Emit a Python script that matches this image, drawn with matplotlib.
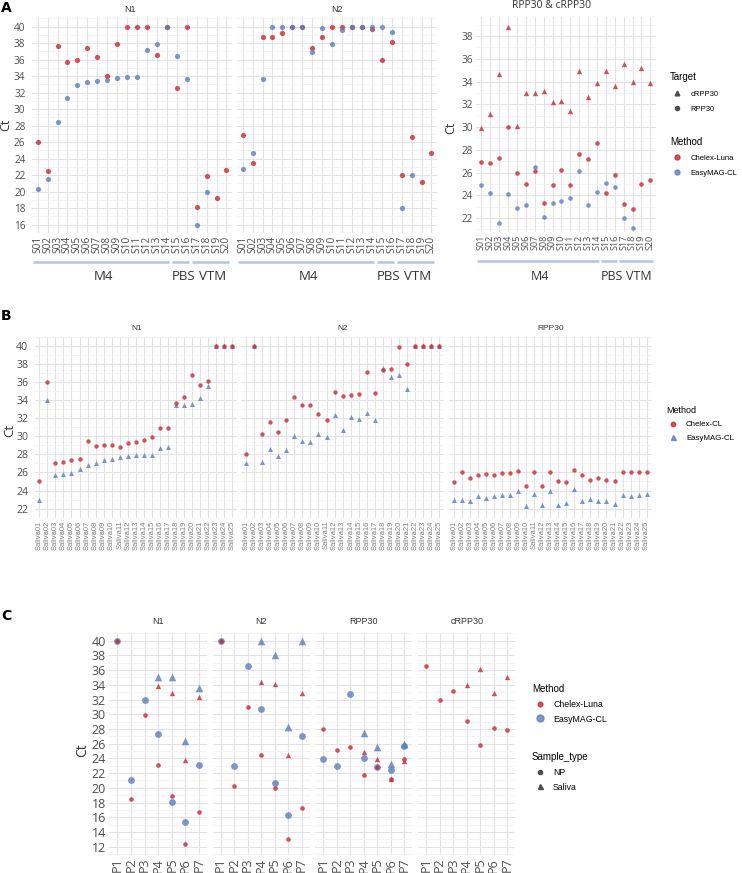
"""Ct values per sample for the extraction methods (panels A, B, C)."""

import numpy as np
import matplotlib
matplotlib.use("Agg")
import matplotlib.pyplot as plt
from matplotlib.lines import Line2D

nan = np.nan

# ---- Panel A: swab samples in M4 / PBS / VTM ----
a_samples = ["S01", "S02", "S03", "S04", "S05", "S06", "S07", "S08", "S09", "S10",
             "S11", "S12", "S13", "S14", "S15", "S16", "S17", "S18", "S19", "S20"]
a_groups = [("M4", "S01", "S14"), ("PBS", "S15", "S16"), ("VTM", "S17", "S20")]
a_n1_chelex = [26.0, 22.5, 37.6, 35.7, 36.0, 37.4, 36.3, 34.0, 37.9, 40, 40, 40, 36.6, 40,
               32.6, 40, 18.2, 21.9, 19.2, 22.6]
a_n1_easymag = [20.3, 21.5, 28.4, 31.4, 32.9, 33.3, 33.4, 33.5, 33.8, 33.9, 33.9, 37.2, 37.9,
                40, 36.5, 33.6, 16.0, 20.0, nan, nan]
a_n2_chelex = [26.9, 23.5, 38.8, 38.7, 39.2, 40, 40, 37.4, 38.8, 40, 40, 40, 40, 39.7,
               36.0, 38.2, 22.0, 26.6, 21.2, 24.7]
a_n2_easymag = [22.7, 24.7, 33.6, 40, 40, 40, 40, 36.9, 39.8, 37.9, 39.6, 40, 40, 40,
                40, 39.3, 18.0, 22.0, nan, nan]
a_rpp30_chelex = [26.9, 26.8, 27.3, 30.0, 26.0, 25.0, 26.1, 23.3, 24.9, 26.2, 24.9, 27.6, 27.2,
                  28.6, 24.2, 25.8, 23.2, 22.8, 25.0, 25.3]
a_rpp30_easymag = [24.9, 24.2, 21.6, 24.1, 22.9, 23.1, 26.5, 22.1, 23.3, 23.5, 23.8, 26.1, 23.1,
                   24.3, 25.1, 24.7, 22.0, 21.1, nan, nan]
a_crpp30_chelex = [29.9, 31.1, 34.7, 38.8, 30.1, 33.0, 33.0, 33.2, 32.2, 32.3, 31.4, 34.9, 32.6,
                   33.9, 34.9, 33.6, 35.5, 34.0, 35.2, 33.9]

# ---- Panel B: saliva samples ----
b_samples = ["Saliva%02d" % i for i in range(1, 26)]
b_n1_chelex = [25.0, 36.0, 27.0, 27.1, 27.4, 27.5, 29.5, 28.9, 29.0, 29.0, 28.8, 29.3, 29.4,
               29.6, 29.9, 30.9, 30.9, 33.7, 34.3, 36.8, 35.7, 36.1, 40, 40, 40]
b_n1_easymag = [23.0, 34.0, 25.7, 25.8, 25.9, 26.4, 26.8, 27.0, 27.4, 27.5, 27.7, 27.8, 27.9,
                27.9, 27.9, 28.7, 28.8, 33.5, 33.5, 33.6, 34.2, 35.5, 40, 40, 40]
b_n2_chelex = [28.0, 40, 30.3, 31.6, 30.5, 31.8, 34.3, 33.4, 33.4, 32.5, 31.8, 34.9, 34.4,
               34.6, 34.7, 37.1, 34.8, 37.3, 37.4, 39.9, 38.0, 40, 40, 40, 40]
b_n2_easymag = [27.0, 40, 27.1, 28.6, 27.8, 28.5, 30.0, 29.5, 29.4, 30.2, 29.9, 32.3, 30.7,
                32.1, 31.9, 32.6, 31.8, 37.5, 36.6, 36.8, 35.2, 40, 40, 40, 40]
b_rpp30_chelex = [24.9, 26.0, 25.4, 25.7, 25.8, 25.7, 25.9, 25.9, 26.2, 24.5, 26.0, 24.5, 26.0,
                  25.0, 24.9, 26.3, 25.7, 25.2, 25.4, 25.2, 25.0, 26.0, 26.0, 26.0, 26.0]
b_rpp30_easymag = [23.0, 23.0, 22.9, 23.4, 23.2, 23.4, 23.5, 23.5, 23.9, 22.3, 23.6, 22.4, 24.0,
                   22.4, 22.6, 24.2, 22.9, 23.1, 22.9, 22.9, 22.5, 23.5, 23.4, 23.5, 23.6]

# ---- Panel C: paired patients, NP swab vs saliva ----
c_patients = ["P1", "P2", "P3", "P4", "P5", "P6", "P7"]
c_targets = ["N1", "N2", "RPP30", "cRPP30"]
c_chelex_np = {
    "N1": [40, 18.5, 29.9, 23.1, 18.9, 12.3, 16.7],
    "N2": [40, 20.3, 31.0, 24.5, 20.0, 13.1, 17.3],
    "RPP30": [28.0, 25.1, 25.6, 21.7, 22.8, 21.2, 23.9],
    "cRPP30": [36.5, 31.9, 33.1, 29.1, 25.8, 28.1, 27.9],
}
c_easymag_np = {
    "N1": [40, 21.0, 32.0, 27.3, 18.1, 15.4, 23.1],
    "N2": [40, 22.9, 36.5, 30.7, 20.7, 16.3, 27.1],
    "RPP30": [23.9, 22.9, 32.7, 24.0, 22.8, 22.4, 25.7],
    "cRPP30": [nan] * 7,
}
c_chelex_saliva = {
    "N1": [nan, nan, nan, 33.9, 32.9, 23.8, 32.4],
    "N2": [nan, nan, nan, 34.4, 34.1, 24.5, 32.9],
    "RPP30": [nan, nan, nan, 24.9, 23.9, 21.2, 23.7],
    "cRPP30": [nan, nan, nan, 34.0, 36.1, 32.9, 35.0],
}
c_easymag_saliva = {
    "N1": [nan, nan, nan, 35.0, 35.0, 26.3, 33.5],
    "N2": [nan, nan, nan, 40, 38.0, 28.2, 40],
    "RPP30": [nan, nan, nan, 27.5, 25.5, 23.2, 26.0],
    "cRPP30": [nan] * 7,
}

RED = "#c72930"
BLUE = "#5c7dbf"
ALPHA = 0.8
GREY = "#4d4d4d"
W, H = 742, 873

plt.rcParams["font.family"] = ["Open Sans", "DejaVu Sans"]
fig = plt.figure(figsize=(W / 100, H / 100), dpi=100)


def facet(x0, x1, ytop, ybot, ylim, ymajor, show_y, xsize, ysize, ypad):
    """Make one ggplot-minimal style facet, placed in pixel units."""
    ax = fig.add_axes([x0 / W, 1 - ybot / H, (x1 - x0) / W, (ybot - ytop) / H])
    ax.set_ylim(*ylim)
    ax.set_yticks(ymajor)
    ax.set_yticks(np.arange(ymajor[0] - 1, ymajor[-1] + 2, 2), minor=True)
    ax.grid(which="major", color="#e3e3e3", linewidth=0.8)
    ax.grid(which="minor", axis="y", color="#f0f0f0", linewidth=0.5)
    ax.set_axisbelow(True)
    for sp in ax.spines.values():
        sp.set_visible(False)
    ax.tick_params(which="both", length=0)
    ax.tick_params(axis="x", labelrotation=90, labelsize=xsize, labelcolor=GREY, pad=2)
    ax.tick_params(axis="y", labelsize=ysize, labelcolor=GREY, pad=ypad, labelleft=show_y)
    return ax


def dots(ax, cats, vals, **kw):
    """Scatter one series on a categorical x axis, leaving out missing values."""
    keep = [(c, v) for c, v in zip(cats, vals) if not np.isnan(v)]
    if keep:
        xs, ys = zip(*keep)
        ax.scatter(list(xs), list(ys), alpha=ALPHA, linewidths=0, **kw)


def label(x, y, s, size, **kw):
    kw.setdefault("family", ["Liberation Sans"])
    kw.setdefault("color", "#333333")
    fig.text(x / W, 1 - y / H, s, fontsize=size, ha=kw.pop("ha", "center"),
             va=kw.pop("va", "center"), **kw)


# ================= Panel A =================
a_ylim = (15.03, 41.17)
a_ticks = np.arange(16, 41, 2)
axA1 = facet(31.7, 232.4, 17, 233, a_ylim, a_ticks, True, 7.3, 7.2, 4.5)
axA2 = facet(236.7, 437.4, 17, 233, a_ylim, a_ticks, False, 7.3, 7.2, 4.5)
axA3 = facet(476, 655.7, 17, 232, (20.77, 39.67), np.arange(22, 39, 2), True, 6.5, 7.2, 2.2)

for ax, red, blue in [(axA1, a_n1_chelex, a_n1_easymag), (axA2, a_n2_chelex, a_n2_easymag)]:
    # register every sample as a category first, so order and range stay fixed
    ax.scatter(a_samples, np.zeros(len(a_samples)), s=0)
    dots(ax, a_samples, red, s=14, color=RED)
    dots(ax, a_samples, blue, s=14, color=BLUE)

axA3.scatter(a_samples, np.zeros(len(a_samples)), s=0)
dots(axA3, a_samples, a_rpp30_chelex, s=11, color=RED)
dots(axA3, a_samples, a_rpp30_easymag, s=11, color=BLUE)
dots(axA3, a_samples, a_crpp30_chelex, s=15, marker="^", color=RED)

for ax, gsize in ((axA1, 9.5), (axA2, 9.5), (axA3, 9)):
    ax.set_xlim(-0.6, len(a_samples) - 0.4)
    h = ax.get_position().height * H
    for name, first, last in a_groups:
        i0, i1 = a_samples.index(first), a_samples.index(last)
        ax.plot([i0 - 0.5, i1 + 0.25], [-29 / h, -29 / h], transform=ax.get_xaxis_transform(),
                clip_on=False, color="#b3c2ea", linewidth=1.8, solid_capstyle="butt")
        ax.text((i0 + i1) / 2 + 0.15, -44 / h, name, transform=ax.get_xaxis_transform(),
                ha="center", va="center", fontsize=gsize, color="#333333")

label(130, 9, "N1", 6.5)
label(337, 9, "N2", 6.5)
label(552, 6, "RPP30 & cRPP30", 7.5, family=["Open Sans"])
label(6, 125, "Ct", 9, rotation=90, family=["Open Sans"])
label(451, 128, "Ct", 9, rotation=90, family=["Open Sans"])
label(6, 8, "A", 10, weight="bold", family=["DejaVu Sans"], color="black")

lp = dict(frameon=False, loc="upper left", alignment="left", borderpad=0, borderaxespad=0,
          prop={"family": "Liberation Sans", "size": 5.5},
          title_fontproperties={"family": "Liberation Sans", "size": 7})
fig.legend([Line2D([], [], marker="^", ls="", color=GREY, markersize=3.4),
            Line2D([], [], marker="o", ls="", color=GREY, markersize=3.0)],
           ["cRPP30", "RPP30"], title="Target", bbox_to_anchor=(670 / W, 1 - 72 / H),
           handlelength=1.76, handletextpad=0.96, labelspacing=1.07, **lp)
fig.legend([Line2D([], [], marker="o", ls="", color=RED, alpha=ALPHA, markersize=3.6),
            Line2D([], [], marker="o", ls="", color=BLUE, alpha=ALPHA, markersize=3.6)],
           ["Chelex-Luna", "EasyMAG-CL"], title="Method", bbox_to_anchor=(670 / W, 1 - 137 / H),
           handlelength=1.76, handletextpad=0.96, labelspacing=1.0, **lp)

# ================= Panel B =================
b_ylim = (21.64, 40.8)
b_ticks = np.arange(22, 41, 2)
axB = [facet(34.5, 237.1, 336.7, 517.7, b_ylim, b_ticks, True, 5.5, 7.6, 4.5),
       facet(241.2, 444.1, 336.7, 517.7, b_ylim, b_ticks, False, 5.5, 7.6, 4.5),
       facet(448.9, 651.5, 336.7, 517.7, b_ylim, b_ticks, False, 5.5, 7.6, 4.5)]
b_series = [(b_n1_chelex, b_n1_easymag), (b_n2_chelex, b_n2_easymag),
            (b_rpp30_chelex, b_rpp30_easymag)]
for ax, (red, blue) in zip(axB, b_series):
    dots(ax, b_samples, blue, s=13, marker="^", color=BLUE)
    dots(ax, b_samples, red, s=10, color=RED)
    ax.set_xlim(-0.6, len(b_samples) - 0.4)
    for t in ax.get_xticklabels():
        t.set_family(["Liberation Sans"])
        t.set_color("#808080")

label(137, 328, "N1", 6)
label(343, 328, "N2", 6)
label(551, 328, "RPP30", 6)
label(10, 430, "Ct", 9.5, rotation=90, family=["Open Sans"])
label(6, 316, "B", 10, weight="bold", family=["DejaVu Sans"], color="black")

fig.legend([Line2D([], [], marker="o", ls="", color=RED, alpha=ALPHA, markersize=3.2),
            Line2D([], [], marker="^", ls="", color=BLUE, alpha=ALPHA, markersize=3.6)],
           ["Chelex-CL", "EasyMAG-CL"], title="Method", bbox_to_anchor=(666 / W, 1 - 406 / H),
           handlelength=1.85, handletextpad=0.68, labelspacing=0.73,
           **{**lp, "prop": {"family": "Liberation Sans", "size": 5.7},
              "title_fontproperties": {"family": "Liberation Sans", "size": 6.5}})

# ================= Panel C =================
c_ylim = (10.87, 40.95)
c_ticks = np.arange(12, 41, 2)
c_edges = [(109.1, 207.2), (212.6, 309.8), (315.2, 412.4), (417.9, 515.4)]
for k, (target, (x0, x1)) in enumerate(zip(c_targets, c_edges)):
    ax = facet(x0, x1, 633.3, 855, c_ylim, c_ticks, k == 0, 9, 9, 2.2)
    ax.scatter(c_patients, np.zeros(len(c_patients)), s=0)
    dots(ax, c_patients, c_easymag_np[target], s=24, color=BLUE)
    dots(ax, c_patients, c_easymag_saliva[target], s=30, marker="^", color=BLUE)
    dots(ax, c_patients, c_chelex_np[target], s=11, color=RED)
    dots(ax, c_patients, c_chelex_saliva[target], s=15, marker="^", color=RED)
    ax.set_xlim(-0.6, len(c_patients) - 0.4)
    label((x0 + x1) / 2, 622, target, 6.5)

label(83, 750, "Ct", 10, rotation=90, family=["Open Sans"])
label(6, 616, "C", 10, weight="bold", family=["DejaVu Sans"], color="black")

lpc = {**lp, "prop": {"family": "Liberation Sans", "size": 6.3},
       "title_fontproperties": {"family": "Liberation Sans", "size": 7}}
fig.legend([Line2D([], [], marker="o", ls="", color=RED, alpha=ALPHA, markersize=3.4),
            Line2D([], [], marker="o", ls="", color=BLUE, alpha=ALPHA, markersize=5.0)],
           ["Chelex-Luna", "EasyMAG-CL"], title="Method", bbox_to_anchor=(532 / W, 1 - 684 / H),
           handlelength=1.83, handletextpad=0.57, labelspacing=0.66, **lpc)
fig.legend([Line2D([], [], marker="o", ls="", color=GREY, markersize=3.0),
            Line2D([], [], marker="^", ls="", color=GREY, markersize=3.6)],
           ["NP", "Saliva"], title="Sample_type", bbox_to_anchor=(532 / W, 1 - 752 / H),
           handlelength=1.83, handletextpad=0.57, labelspacing=0.66, **lpc)

fig.savefig("out.png", dpi=100, facecolor="white")
